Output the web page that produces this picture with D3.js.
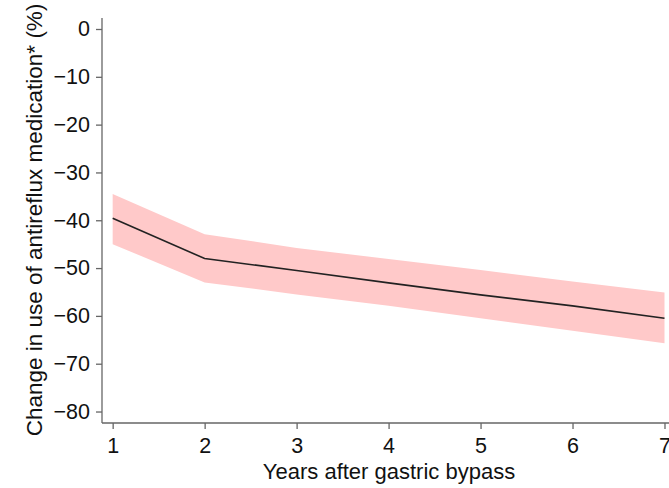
<!DOCTYPE html>
<html lang="en">
<head>
  <meta charset="UTF-8">
  <title>Change in use of antireflux medication</title>
  <script src="https://d3js.org/d3.v7.min.js"></script>
  <style>
    body { margin: 0; background: #fff; font-family: 'Liberation Sans', Arial, sans-serif; }
    .axis text { font-size: 21.5px; fill: #111; font-family: 'Liberation Sans', Arial, sans-serif; }
    .axis path, .axis line { stroke: #666; stroke-width: 1.3; }
  </style>
</head>
<body>
  <div id="chart"></div>
  <script>
    // values
    const years = [1, 2, 3, 4, 5, 6, 7];
    const change = [-39.6, -48.0, -50.5, -53.1, -55.6, -57.9, -60.5];
    const upperCI = [-34.5, -42.9, -45.8, -48.1, -50.4, -52.8, -55.1];
    const lowerCI = [-45.0, -53.0, -55.5, -57.9, -60.5, -63.1, -65.7];
    const yTicks = [0, -10, -20, -30, -40, -50, -60, -70, -80];

    const W = 669, H = 488;
    const margin = { top: 18, right: 0, bottom: 65, left: 102 };
    const width = W - margin.left - margin.right,
          height = H - margin.top - margin.bottom;

    const svg = d3.select("#chart")
      .append("svg")
      .attr("width", W)
      .attr("height", H)
      .append("g")
      .attr("transform", `translate(${margin.left},${margin.top})`);

    const x = d3.scaleLinear().domain([0.884, 7.049]).range([0, width]);
    const y = d3.scaleLinear().domain([-82.4, 2.3]).range([height, 0]);

    const rows = years.map((yr, i) => ({ yr, v: change[i], lo: lowerCI[i], hi: upperCI[i] }));

    // confidence band
    svg.append("path")
      .datum(rows)
      .attr("fill", "#ffc9c9")
      .attr("d", d3.area().x(d => x(d.yr)).y0(d => y(d.lo)).y1(d => y(d.hi)));

    svg.append("path")
      .datum(rows)
      .attr("fill", "none")
      .attr("stroke", "#222")
      .attr("stroke-width", 1.6)
      .attr("d", d3.line().x(d => x(d.yr)).y(d => y(d.v)));

    const yAxis = svg.append("g")
      .attr("class", "axis")
      .call(d3.axisLeft(y).tickValues(yTicks).tickSize(6).tickPadding(6)
        .tickFormat(d => d === 0 ? "0" : "\u2212" + Math.abs(d)));
    yAxis.select(".domain").attr("d", `M0,0V${height}`);

    const xAxis = svg.append("g")
      .attr("class", "axis")
      .attr("transform", `translate(0,${height})`)
      .call(d3.axisBottom(x).tickValues(years).tickSize(6).tickPadding(9).tickFormat(d3.format("d")));
    xAxis.select(".domain").attr("d", `M0,0H${width}`);

    svg.append("text")
      .attr("x", 389 - margin.left)
      .attr("y", 479 - margin.top)
      .attr("text-anchor", "middle")
      .attr("font-size", 22)
      .attr("fill", "#111")
      .text("Years after gastric bypass");

    svg.append("text")
      .attr("transform", `translate(${42 - margin.left},${220 - margin.top}) rotate(-90)`)
      .attr("text-anchor", "middle")
      .attr("font-size", 22.5)
      .attr("fill", "#111")
      .text("Change in use of antireflux medication* (%)");
  </script>
</body>
</html>
